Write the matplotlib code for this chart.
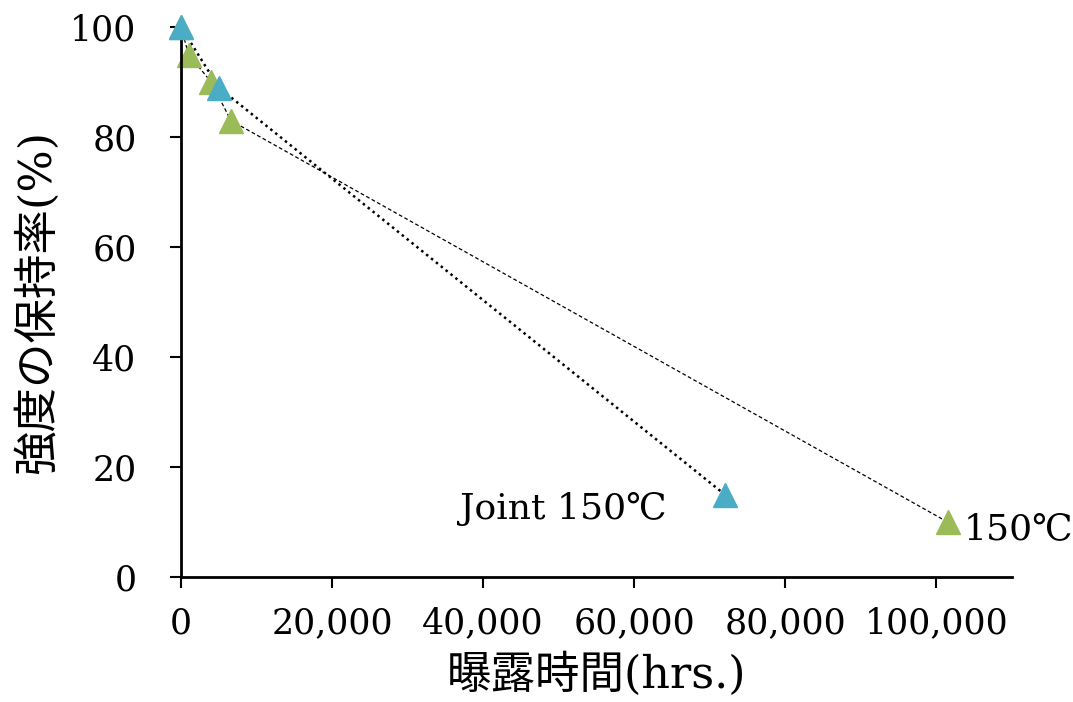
import matplotlib
matplotlib.use('Agg')
import matplotlib.pyplot as plt
from matplotlib.ticker import FuncFormatter

plt.rcParams['font.family'] = ['DejaVu Serif', 'Noto Sans CJK JP']

# exposure hours vs. strength retention (%)
hours_150 = [0, 1000, 4000, 6600, 101500]
retain_150 = [100, 95, 90, 83, 10]
hours_joint = [0, 5000, 72000]
retain_joint = [100, 89, 15]

xticks = [0, 20000, 40000, 60000, 80000, 100000]
yticks = [0, 20, 40, 60, 80, 100]

fig = plt.figure(figsize=(10.73, 7.02), dpi=100)
ax = fig.add_axes([0.1687, 0.178, 0.7743, 0.7835])

ax.plot(hours_150, retain_150, color='black', linestyle=(0, (3, 2)), linewidth=0.9, zorder=1)
ax.plot(hours_150, retain_150, linestyle='none', marker='^', markersize=17,
        color='#9BBB59', zorder=2)
ax.plot(hours_joint, retain_joint, color='black', linestyle=(0, (1, 1.5)), linewidth=1.8, zorder=1)
ax.plot(hours_joint, retain_joint, linestyle='none', marker='^', markersize=17,
        color='#4BACC6', zorder=3)

ax.text(64300, 12.4, 'Joint 150℃', fontsize=26, ha='right', va='center')
ax.text(103600, 8.8, '150℃', fontsize=26, ha='left', va='center')

ax.set_xlim(0, 110000)
ax.set_ylim(0, 100)
ax.set_xticks(xticks)
ax.set_yticks(yticks)
ax.xaxis.set_major_formatter(FuncFormatter(lambda v, p: f'{int(v):,}'))
ax.tick_params(labelsize=25, width=1.5, length=8, direction='out')
ax.tick_params(axis='y', pad=24)
ax.tick_params(axis='x', pad=13)

for s in ['top', 'right']:
    ax.spines[s].set_visible(False)
for s in ['left', 'bottom']:
    ax.spines[s].set_linewidth(2.0)

ax.set_xlabel('曝露時間(hrs.)', fontsize=32, labelpad=9)
ax.set_ylabel('強度の保持率(%)', fontsize=32, labelpad=8)
for line in ax.lines:
    line.set_clip_on(False)

fig.savefig('out.png', dpi=100)
